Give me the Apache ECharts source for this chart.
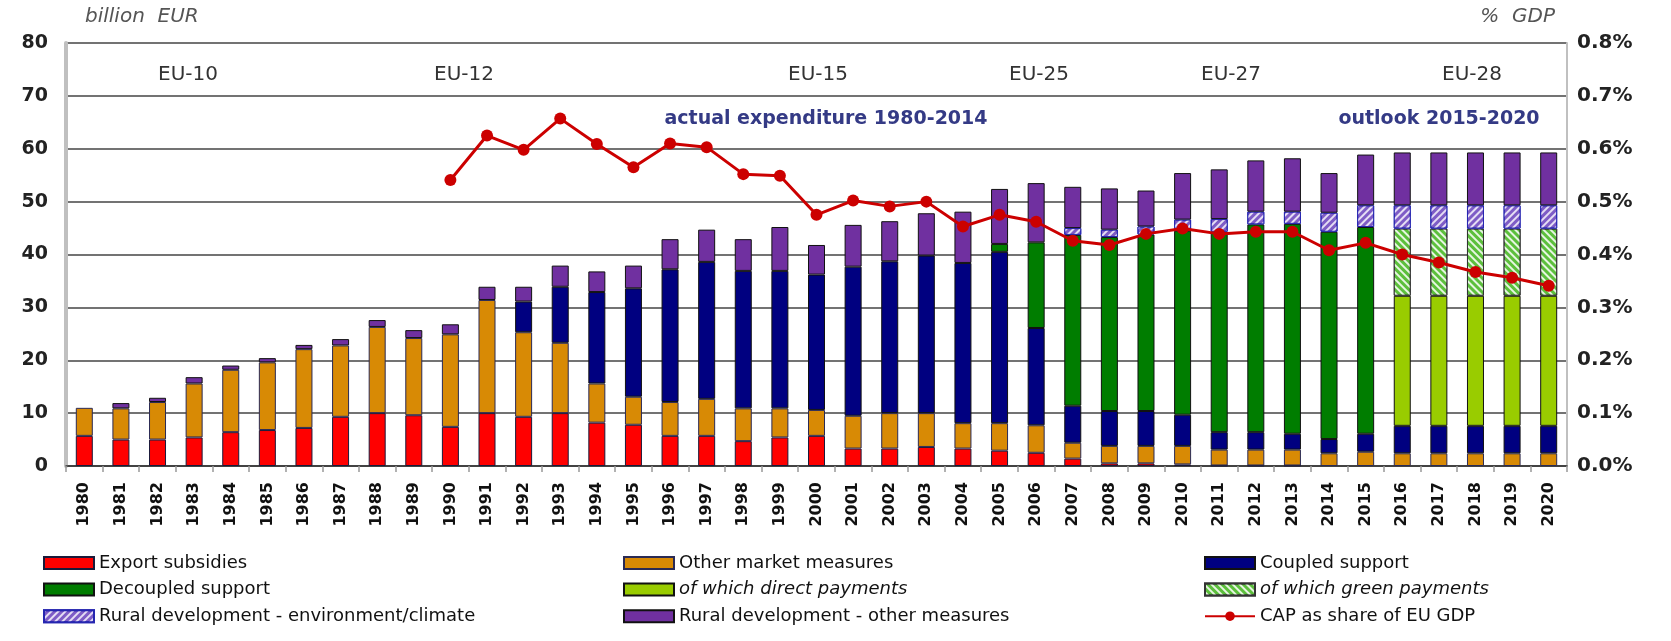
<!DOCTYPE html>
<html><head><meta charset="utf-8">
<script src="https://cdn.jsdelivr.net/npm/echarts@6/dist/echarts.min.js"></script>
<style>html,body{margin:0;padding:0;background:#fff}#c{width:1671px;height:641px}</style>
</head><body><div id="c"></div>
<script>
const years = ['1980','1981','1982','1983','1984','1985','1986','1987','1988','1989','1990','1991','1992','1993','1994','1995','1996','1997','1998','1999','2000','2001','2002','2003','2004','2005','2006','2007','2008','2009','2010','2011','2012','2013','2014','2015','2016','2017','2018','2019','2020'];
const exportSubsidies = [5.7,5.0,5.0,5.4,6.4,6.8,7.2,9.3,10.0,9.6, 7.4,10.0,9.3,10.0,8.2,7.8,5.7,5.7,4.7,5.4, 5.7,3.3,3.3,3.6,3.3,2.9,2.5,1.4,0.5,0.5, 0.3,0.1,0.1,0.1,0,0,0,0,0,0,0];
const otherMarket = [5.3,5.9,7.1,10.2,11.8,12.8,14.9,13.5,16.3,14.6, 17.5,21.4,16.0,13.3,7.4,5.3,6.4,7.0,6.2,5.5, 4.9,6.2,6.7,6.4,4.8,5.2,5.2,3.0,3.3,3.3, 3.5,3.0,3.0,3.0,2.4,2.7,2.4,2.4,2.4,2.4,2.4];
const coupledSupport = [0,0,0,0,0,0,0,0,0,0, 0,0,5.8,10.6,17.3,20.5,25.1,25.9,26.0,26.0, 25.6,28.2,28.7,29.8,30.3,32.4,18.4,7.0,6.6,6.6, 5.9,3.3,3.3,3.0,2.7,3.4,5.2,5.2,5.2,5.2,5.2];
const decoupledSupport = [0,0,0,0,0,0,0,0,0,0, 0,0,0,0,0,0,0,0,0,0, 0,0,0,0,0,1.5,16.2,32.3,32.9,33.4, 34.8,37.9,39.3,39.7,39.2,39.1,0,0,0,0,0];
const directPayments = [0,0,0,0,0,0,0,0,0,0, 0,0,0,0,0,0,0,0,0,0, 0,0,0,0,0,0,0,0,0,0, 0,0,0,0,0,0,24.6,24.6,24.6,24.6,24.6];
const greenPayments = [0,0,0,0,0,0,0,0,0,0, 0,0,0,0,0,0,0,0,0,0, 0,0,0,0,0,0,0,0,0,0, 0,0,0,0,0,0,12.7,12.7,12.7,12.7,12.7];
const ruralEnv = [0,0,0,0,0,0,0,0,0,0, 0,0,0,0,0,0,0,0,0,0, 0,0,0,0,0,0,0,1.3,1.4,1.5, 2.1,2.4,2.4,2.3,3.6,4.1,4.4,4.4,4.4,4.4,4.4];
const ruralOther = [0,1.0,0.8,1.2,0.8,0.8,0.8,1.2,1.3,1.5, 1.9,2.5,2.8,4.0,3.9,4.3,5.7,6.1,6.0,8.3, 5.6,7.9,7.6,8.0,9.7,10.4,11.2,7.8,7.8,6.8, 8.8,9.4,9.7,10.1,7.5,9.6,10.0,10.0,10.0,10.0,10.0];
const capShareGDP = [null,null,null,null,null,null,null,null,null,null, 0.541,0.625,0.598,0.657,0.609,0.565,0.610,0.603,0.552,0.549, 0.475,0.502,0.491,0.500,0.453,0.475,0.462,0.426,0.418,0.439, 0.449,0.439,0.443,0.443,0.408,0.422,0.400,0.385,0.367,0.356,0.341];
const leftTicks = [0,10,20,30,40,50,60,70,80];
const eraLabels = ['EU-10','EU-12','EU-15','EU-25','EU-27','EU-28'];

const FONT = '"DejaVu Sans", Verdana, sans-serif';
const chart = echarts.init(document.getElementById('c'), null, {renderer:'canvas'});
const nz = a => a.map(v => v === 0 ? '-' : v);

function bar(name, data, color, border, decal) {
  const s = {
    name, type:'bar', stack:'cap', data:nz(data), barWidth:17,
    itemStyle:{color, borderColor:border, borderWidth:1}
  };
  if (decal) s.itemStyle.decal = decal;
  return s;
}
const hatchEnv = {symbol:'rect', symbolSize:1, color:'rgba(255,255,255,0.8)', dashArrayX:[1,0], dashArrayY:[2,3], rotation:-Math.PI/4};
const hatchGreen = {symbol:'rect', symbolSize:1, color:'rgba(255,255,255,0.85)', dashArrayX:[1,0], dashArrayY:[2,3], rotation:Math.PI/4};

const legendCommon = {
  orient:'vertical', top:554, itemWidth:50, itemHeight:12, itemGap:8.6, padding:0,
  selectedMode:false,
  textStyle:{fontFamily:FONT, fontSize:18, color:'#111', lineHeight:18}
};
const it = n => ({name:n, icon:'rect', textStyle:{fontStyle:'italic'}});
const rc = n => ({name:n, icon:'rect'});

const eraX = [188, 464, 818, 1039, 1231, 1472];
const graphics = [
  {type:'text', style:{text:'billion  EUR', x:85, y:17, font:'italic 20px '+FONT, fill:'#555', textAlign:'left', textVerticalAlign:'middle', align:'left', verticalAlign:'middle'}},
  {type:'text', style:{text:'%  GDP', x:1555, y:17, font:'italic 20px '+FONT, fill:'#555', textAlign:'right', textVerticalAlign:'middle', align:'right', verticalAlign:'middle'}},
  {type:'text', style:{text:'actual expenditure 1980-2014', x:826, y:119, font:'bold 19px '+FONT, fill:'#343A85', textAlign:'center', textVerticalAlign:'middle', align:'center', verticalAlign:'middle'}},
  {type:'text', style:{text:'outlook 2015-2020', x:1439, y:119, font:'bold 19px '+FONT, fill:'#343A85', textAlign:'center', textVerticalAlign:'middle', align:'center', verticalAlign:'middle'}}
];
eraLabels.forEach((t,i) => graphics.push({type:'text', style:{text:t, x:eraX[i], y:75, font:'20px '+FONT, fill:'#333', textAlign:'center', textVerticalAlign:'middle', align:'center', verticalAlign:'middle'}}));

const option = {
  backgroundColor:'#fff',
  animation:false,
  grid:{left:66, right:104, top:43, bottom:175, containLabel:false},
  xAxis:{
    type:'category', data:years, boundaryGap:true,
    axisLine:{show:true, lineStyle:{color:'#333', width:1.5}},
    axisTick:{show:true, interval:0, length:6, lineStyle:{color:'#999', width:1.5}},
    axisLabel:{interval:0, rotate:90, margin:16, fontFamily:FONT, fontSize:16, fontWeight:'bold', color:'#111'}
  },
  yAxis:[
    {type:'value', min:leftTicks[0], max:leftTicks[leftTicks.length-1], interval:10,
     axisLine:{show:true, lineStyle:{color:'#C0C0C0', width:4}}, axisTick:{show:false},
     splitLine:{show:true, lineStyle:{color:'#444', width:1.5}},
     axisLabel:{margin:18, fontFamily:FONT, fontSize:19, fontWeight:'bold', color:'#222'}},
    {type:'value', min:0, max:0.8, interval:0.1, position:'right',
     axisLine:{show:true, lineStyle:{color:'#C0C0C0', width:2}}, axisTick:{show:false},
     splitLine:{show:false},
     axisLabel:{margin:10, fontFamily:FONT, fontSize:20, fontWeight:'bold', color:'#222', formatter:v => v.toFixed(1)+'%'}}
  ],
  legend:[
    Object.assign({left:43, data:[rc('Export subsidies'), rc('Decoupled support'), rc('Rural development - environment/climate')]}, legendCommon),
    Object.assign({left:623, data:[rc('Other market measures'), it('of which direct payments'), rc('Rural development - other measures')]}, legendCommon),
    Object.assign({left:1204, data:[rc('Coupled support'), it('of which green payments'), 'CAP as share of EU GDP']}, legendCommon)
  ],
  graphic:graphics,
  series:[
    bar('Export subsidies', exportSubsidies, '#FF0000', '#1a1a3a'),
    bar('Other market measures', otherMarket, '#D88A05', '#2a2a55'),
    bar('Coupled support', coupledSupport, '#000080', '#111'),
    bar('Decoupled support', decoupledSupport, '#007D00', '#111'),
    bar('of which direct payments', directPayments, '#99CC00', '#111'),
    bar('of which green payments', greenPayments, '#5CBF3C', '#333', hatchGreen),
    bar('Rural development - environment/climate', ruralEnv, '#7E5CC6', '#2626B0', hatchEnv),
    bar('Rural development - other measures', ruralOther, '#7030A0', '#111'),
    {name:'CAP as share of EU GDP', type:'line', yAxisIndex:1, data:capShareGDP, z:5,
     symbol:'circle', symbolSize:12, lineStyle:{color:'#CC0000', width:3},
     itemStyle:{color:'#CC0000'}}
  ]
};
chart.setOption(option);
</script></body></html>
